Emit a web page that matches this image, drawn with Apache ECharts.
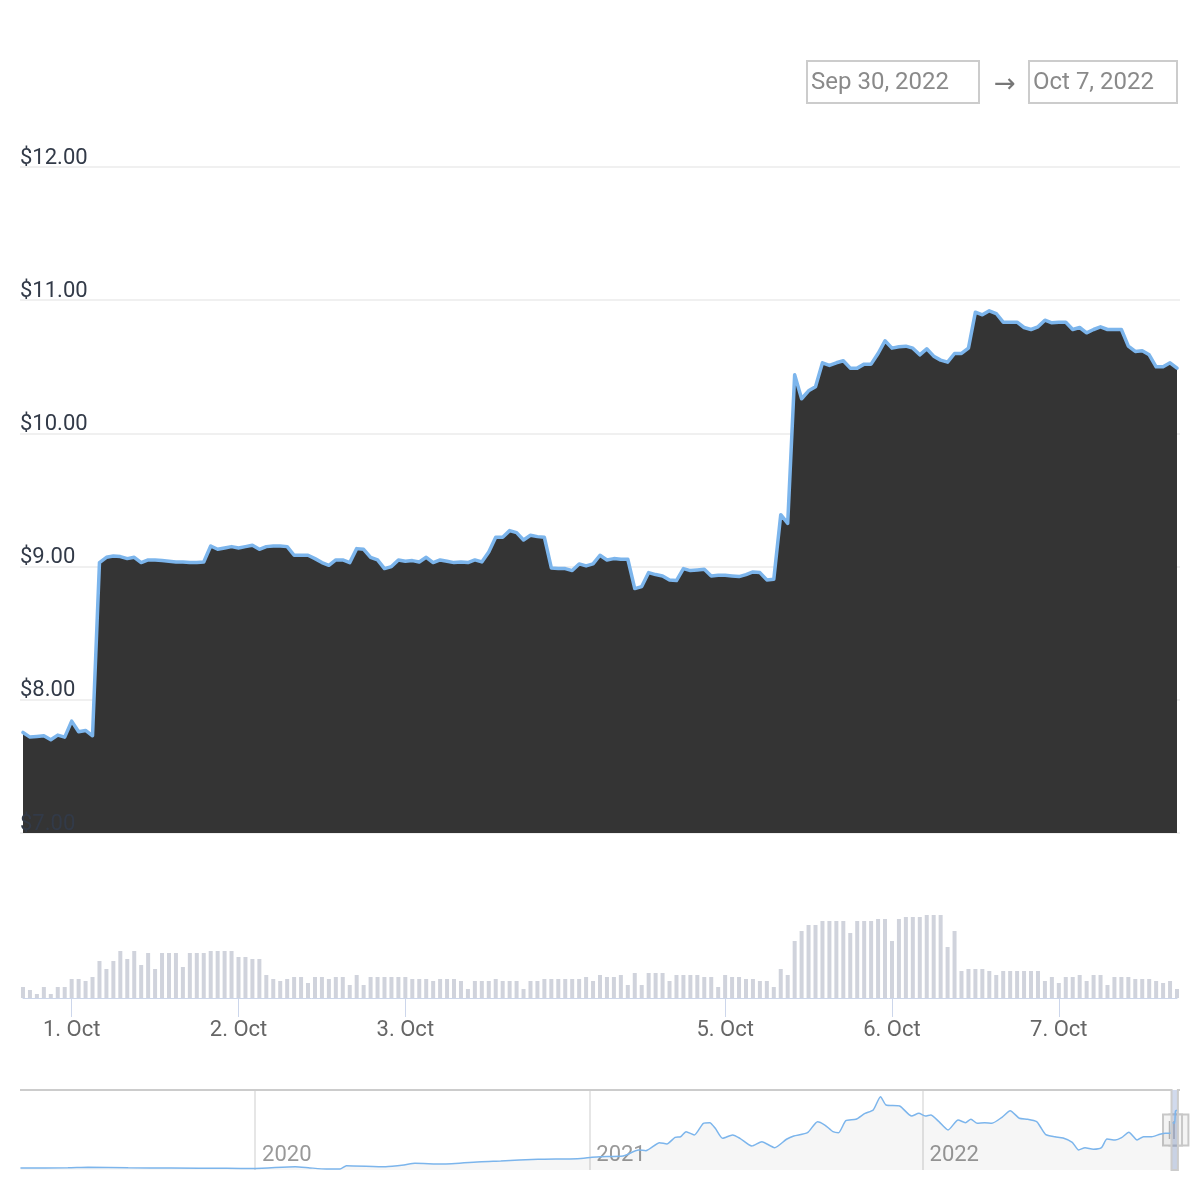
<!DOCTYPE html>
<html>
<head>
<meta charset="utf-8">
<script src="https://cdn.jsdelivr.net/npm/echarts@6/dist/echarts.min.js"></script>
<style>
html,body{margin:0;padding:0;background:#ffffff;}
#chart{width:1200px;height:1200px;}
</style>
</head>
<body>
<div id="chart"></div>
<script>
// ---------------- DATA ----------------
// Hourly price (USD), Sep 30 2022 17:00 -> Oct 7 2022 17:00 (two hours missing on Oct 4)
const priceValues = [
7.755,7.72,7.725,7.73,7.70,7.735,7.72,7.84,7.76,7.77,
7.73,9.03,9.07,9.08,9.075,9.06,9.07,9.03,9.05,9.05,
9.045,9.04,9.035,9.035,9.03,9.03,9.035,9.155,9.13,9.14,
9.15,9.14,9.15,9.16,9.13,9.15,9.155,9.155,9.15,9.085,
9.085,9.085,9.06,9.03,9.01,9.05,9.05,9.03,9.135,9.13,
9.07,9.05,8.985,9.0,9.05,9.04,9.045,9.035,9.07,9.03,
9.05,9.04,9.03,9.035,9.03,9.05,9.035,9.11,9.22,9.22,
9.27,9.255,9.2,9.235,9.225,9.22,8.99,8.985,8.985,8.97,
9.02,9.005,9.02,9.085,9.05,9.06,9.055,9.055,8.835,8.85,
8.955,8.94,8.93,8.90,8.895,8.985,8.97,8.975,8.98,8.93,
8.935,8.935,8.93,8.925,8.94,8.96,8.955,8.90,8.905,9.39,
9.325,10.44,10.26,10.32,10.35,10.53,10.51,10.53,10.545,10.49,
10.49,10.52,10.52,10.6,10.695,10.64,10.65,10.655,10.64,10.59,
10.635,10.58,10.55,10.535,10.60,10.60,10.64,10.91,10.89,10.92,
10.90,10.835,10.835,10.835,10.795,10.78,10.80,10.85,10.83,10.835,
10.835,10.78,10.795,10.755,10.78,10.80,10.78,10.78,10.78,10.655,
10.615,10.62,10.59,10.50,10.50,10.53,10.49
];
// Hourly volume (arbitrary units)
const volumeValues = [
11,8,4,11,4,11,11,19,19,17,
21,37,29,37,47,39,47,33,45,29,
45,45,45,31,45,45,45,47,47,47,
47,41,41,39,39,23,19,17,19,21,
21,15,21,21,19,21,21,13,23,13,
21,21,21,21,21,21,19,19,19,17,
19,19,19,17,9,17,17,17,19,17,
17,17,9,17,17,19,19,19,19,19,
19,21,17,23,21,21,23,13,25,13,
25,25,25,17,23,23,23,23,21,21,
11,23,21,21,19,19,17,17,11,29,
23,57,67,73,73,77,77,77,77,65,
77,77,77,79,79,57,79,81,81,81,
83,83,83,51,67,27,29,29,29,27,
23,27,27,27,27,27,27,17,21,15,
21,21,23,17,23,23,13,21,21,21,
19,19,19,17,15,17,9
];
const firstHour = '2022-09-30 17:00';
const lastHour = '2022-10-07 17:00';
const missingHours = ['2022-10-04 00:00', '2022-10-04 01:00'];

// Y axis tick labels of the price pane
const priceTicks = [7, 8, 9, 10, 11, 12];

// Navigator: long price history
const navDates = [
'2019-04-19','2019-06-10','2019-07-02','2019-08-15','2019-10-01','2019-12-01','2020-01-01','2020-02-14','2020-03-01','2020-03-19',
'2020-04-03','2020-04-10','2020-05-23','2020-06-12','2020-06-24','2020-07-24','2020-09-05','2020-09-26','2020-11-06','2020-12-19',
'2021-01-04','2021-01-13','2021-02-07','2021-02-24','2021-03-04','2021-03-19','2021-03-27','2021-04-05','2021-04-11','2021-04-17',
'2021-04-26','2021-05-06','2021-05-13','2021-05-19','2021-05-27','2021-06-07','2021-06-15','2021-06-28','2021-07-09','2021-07-23',
'2021-08-05','2021-08-13','2021-08-28','2021-09-08','2021-09-16','2021-09-25','2021-10-01','2021-10-09','2021-10-20','2021-10-30',
'2021-11-08','2021-11-16','2021-11-22','2021-12-07','2021-12-20','2021-12-28','2022-01-04','2022-01-10','2022-01-19','2022-01-29',
'2022-02-09','2022-02-17','2022-02-23','2022-03-02','2022-03-10','2022-03-18','2022-03-29','2022-04-07','2022-04-17','2022-04-26',
'2022-05-06','2022-05-10','2022-05-16','2022-05-26','2022-06-04','2022-06-14','2022-06-21','2022-06-28','2022-07-07','2022-07-16',
'2022-07-22','2022-07-31','2022-08-07','2022-08-15','2022-08-24','2022-08-31','2022-09-09','2022-09-18','2022-09-24','2022-09-30',
'2022-10-01','2022-10-04','2022-10-05','2022-10-07'
];
const navValues = [
3.64,3.66,3.72,3.66,3.64,3.60,3.58,3.79,3.65,3.52,
3.52,3.91,3.79,3.99,4.20,4.11,4.39,4.47,4.67,4.74,
4.91,4.98,5.06,5.78,5.69,6.64,6.49,7.28,7.35,7.95,
7.56,8.95,9.02,8.35,7.16,7.56,7.16,6.25,6.76,6.05,
7.05,7.44,7.83,9.14,8.74,7.95,7.83,9.26,9.42,10.13,
10.53,12.11,11.12,11.00,9.81,10.13,9.81,9.93,9.14,8.15,
9.34,9.02,9.42,8.95,9.02,8.95,9.66,10.44,9.54,9.42,
9.14,8.54,7.60,7.35,7.20,6.69,5.78,6.05,5.86,6.05,
7.08,6.96,7.24,7.88,6.96,7.35,7.35,7.64,7.76,7.75,
9.05,8.95,10.40,10.49
];
const navRange = ['2019-04-18 12:00', '2022-10-10 00:00'];
const navValueRange = [3.4, 12.9];

// ---------------- HELPERS ----------------
const MONTHS = ['Jan','Feb','Mar','Apr','May','Jun','Jul','Aug','Sep','Oct','Nov','Dec'];
function parseTs(s) {
  const [d, t] = s.split(' ');
  const [y, m, dd] = d.split('-').map(Number);
  let hh = 0, mm = 0;
  if (t) { [hh, mm] = t.split(':').map(Number); }
  return Date.UTC(y, m - 1, dd, hh, mm);
}
function pad(n) { return String(n).padStart(2, '0'); }
function fmtHour(ts) {
  const d = new Date(ts);
  return d.getUTCFullYear() + '-' + pad(d.getUTCMonth() + 1) + '-' + pad(d.getUTCDate()) + ' ' + pad(d.getUTCHours()) + ':00';
}
function longDate(s) {
  const d = new Date(parseTs(s));
  return MONTHS[d.getUTCMonth()] + ' ' + d.getUTCDate() + ', ' + d.getUTCFullYear();
}

const times = [];
for (let t = parseTs(firstHour); t <= parseTs(lastHour); t += 3600000) {
  const s = fmtHour(t);
  if (missingHours.indexOf(s) === -1) times.push(s);
}
const isMidnight = (idx, val) => /\s00:00$/.test(val);
const dayLabel = (val) => {
  const d = new Date(parseTs(val));
  return d.getUTCDate() + '. ' + MONTHS[d.getUTCMonth()];
};
const navData = navDates.map((d, i) => [parseTs(d), navValues[i]]);
const rangeLabels = [longDate(firstHour), longDate(lastHour)];

const FONT = 'Roboto, "DejaVu Sans", sans-serif';

// ---------------- CHART ----------------
const chart = echarts.init(document.getElementById('chart'), null, { renderer: 'canvas' });

const option = {
  animation: false,
  useUTC: true,
  backgroundColor: '#ffffff',
  grid: [
    { left: 23, right: 23, top: 167, height: 666 },   // price series
    { left: 20, right: 20, top: 167, height: 666 },   // price frame (grid lines + labels)
    { left: 23, right: 23, top: 880, height: 118 },   // volume
    { left: 20, right: 20, top: 1090, height: 80 }    // navigator
  ],
  xAxis: [
    { gridIndex: 0, type: 'category', data: times, boundaryGap: false, show: false },
    { gridIndex: 1, type: 'value', min: 0, max: 1, show: false },
    {
      gridIndex: 2, type: 'category', data: times, boundaryGap: false,
      axisLine: { show: true, lineStyle: { color: '#ccd6eb', width: 1 } },
      axisTick: { show: true, interval: isMidnight, length: 19, lineStyle: { color: '#ccd6eb', width: 1 } },
      axisLabel: { interval: isMidnight, formatter: dayLabel, color: '#666666', fontSize: 22, fontFamily: FONT, margin: 21 },
      splitLine: { show: false }
    },
    {
      gridIndex: 3, type: 'time', min: parseTs(navRange[0]), max: parseTs(navRange[1]),
      splitNumber: 3, minInterval: 365 * 86400000,
      axisLine: { show: false }, axisTick: { show: false },
      splitLine: { show: true, showMinLine: false, showMaxLine: false, lineStyle: { color: '#e6e6e6', width: 2 } },
      axisLabel: {
        inside: true, align: 'left', padding: [0, 0, 0, 7], margin: 4,
        showMinLabel: false, showMaxLabel: false,
        color: '#999999', fontSize: 22, fontFamily: FONT,
        formatter: (v) => String(new Date(v).getUTCFullYear())
      }
    }
  ],
  yAxis: [
    { gridIndex: 0, type: 'value', position: 'left', min: priceTicks[0], max: priceTicks[priceTicks.length - 1], show: false },
    {
      gridIndex: 1, type: 'value', position: 'left', min: priceTicks[0], max: priceTicks[priceTicks.length - 1], interval: 1,
      axisLine: { show: false }, axisTick: { show: false }, axisLabel: { show: false },
      splitLine: { show: true, lineStyle: { color: '#f0f0f0', width: 2 } }
    },
    {
      gridIndex: 1, type: 'value', position: 'left', offset: 0,
      min: priceTicks[0], max: priceTicks[priceTicks.length - 1], interval: 1, z: 10,
      axisLine: { show: false }, axisTick: { show: false }, splitLine: { show: false },
      axisLabel: {
        inside: true, verticalAlign: 'bottom', margin: 0, lineHeight: 18,
        color: '#323a48', fontSize: 22, fontFamily: FONT,
        formatter: (v) => '$' + v.toFixed(2)
      }
    },
    { gridIndex: 2, type: 'value', min: 0, max: 118, show: false },
    { gridIndex: 3, type: 'value', min: navValueRange[0], max: navValueRange[1], show: false }
  ],
  series: [
    {
      name: 'Price', type: 'line', xAxisIndex: 0, yAxisIndex: 0,
      data: priceValues, showSymbol: false, symbol: 'none', z: 3,
      lineStyle: { color: '#7cb5ec', width: 3.5, join: 'round', cap: 'round' },
      areaStyle: { color: '#343434', opacity: 1, origin: 'start' }
    },
    {
      name: 'Volume', type: 'bar', xAxisIndex: 2, yAxisIndex: 3,
      data: volumeValues, barWidth: 4, itemStyle: { color: '#d0d3dc' }
    },
    {
      name: 'Navigator', type: 'line', xAxisIndex: 3, yAxisIndex: 4,
      data: navData, showSymbol: false, symbol: 'none', smooth: 0.2,
      lineStyle: { color: '#7cb5ec', width: 1.5 },
      areaStyle: { color: 'rgba(0,0,0,0.05)', origin: 'start' },
      markArea: {
        silent: true,
        itemStyle: { color: 'rgba(102,133,194,0.3)' },
        data: [[{ xAxis: parseTs(firstHour) }, { xAxis: parseTs(lastHour) }]]
      }
    }
  ]
};
chart.setOption(option);

// ---------------- NAVIGATOR CHROME + RANGE INPUTS ----------------
const px = (v) => chart.convertToPixel({ xAxisIndex: 3 }, v);
const py = (v) => chart.convertToPixel({ yAxisIndex: 4 }, v);
const xL = px(parseTs(navRange[0])), xR = px(parseTs(navRange[1]));
const x0 = px(parseTs(firstHour)), x1 = px(parseTs(lastHour));
const yT = py(navValueRange[1]), yB = py(navValueRange[0]);
const yMid = (yT + yB) / 2;

function handle(x) {
  return {
    type: 'group', z: 100,
    children: [
      { type: 'rect', shape: { x: x - 8.5, y: yMid - 15.5, width: 19, height: 31 },
        style: { fill: '#f4f4f4', stroke: '#c8c8c8', lineWidth: 2 } },
      { type: 'line', shape: { x1: x - 2, y1: yMid - 9, x2: x - 2, y2: yMid + 9 },
        style: { stroke: '#b5b5b5', lineWidth: 1.5 } },
      { type: 'line', shape: { x1: x + 2.5, y1: yMid - 9, x2: x + 2.5, y2: yMid + 9 },
        style: { stroke: '#b5b5b5', lineWidth: 1.5 } }
    ]
  };
}

chart.setOption({
  graphic: [
    { type: 'polyline', z: 90,
      shape: { points: [[xL, yT], [x0, yT], [x0, yB], [x1, yB], [x1, yT], [xR, yT]] },
      style: { stroke: '#cccccc', lineWidth: 2, fill: null } },
    handle(x1),
    handle(x0),
    { type: 'rect', z: 100, shape: { x: 807, y: 61, width: 172, height: 42 },
      style: { fill: '#ffffff', stroke: '#cccccc', lineWidth: 2 } },
    { type: 'text', z: 101, x: 811, y: 83,
      style: { text: rangeLabels[0], fill: '#8a8a8a', font: '24px ' + FONT, textVerticalAlign: 'middle', verticalAlign: 'middle' } },
    { type: 'text', z: 101, x: 1005, y: 85,
      style: { text: '→', fill: '#777777', font: '26px "DejaVu Sans", sans-serif', align: 'center', textAlign: 'center', verticalAlign: 'middle', textVerticalAlign: 'middle' } },
    { type: 'rect', z: 100, shape: { x: 1029, y: 61, width: 148, height: 42 },
      style: { fill: '#ffffff', stroke: '#cccccc', lineWidth: 2 } },
    { type: 'text', z: 101, x: 1033, y: 83,
      style: { text: rangeLabels[1], fill: '#8a8a8a', font: '24px ' + FONT, textVerticalAlign: 'middle', verticalAlign: 'middle' } }
  ]
});
</script>
</body>
</html>
